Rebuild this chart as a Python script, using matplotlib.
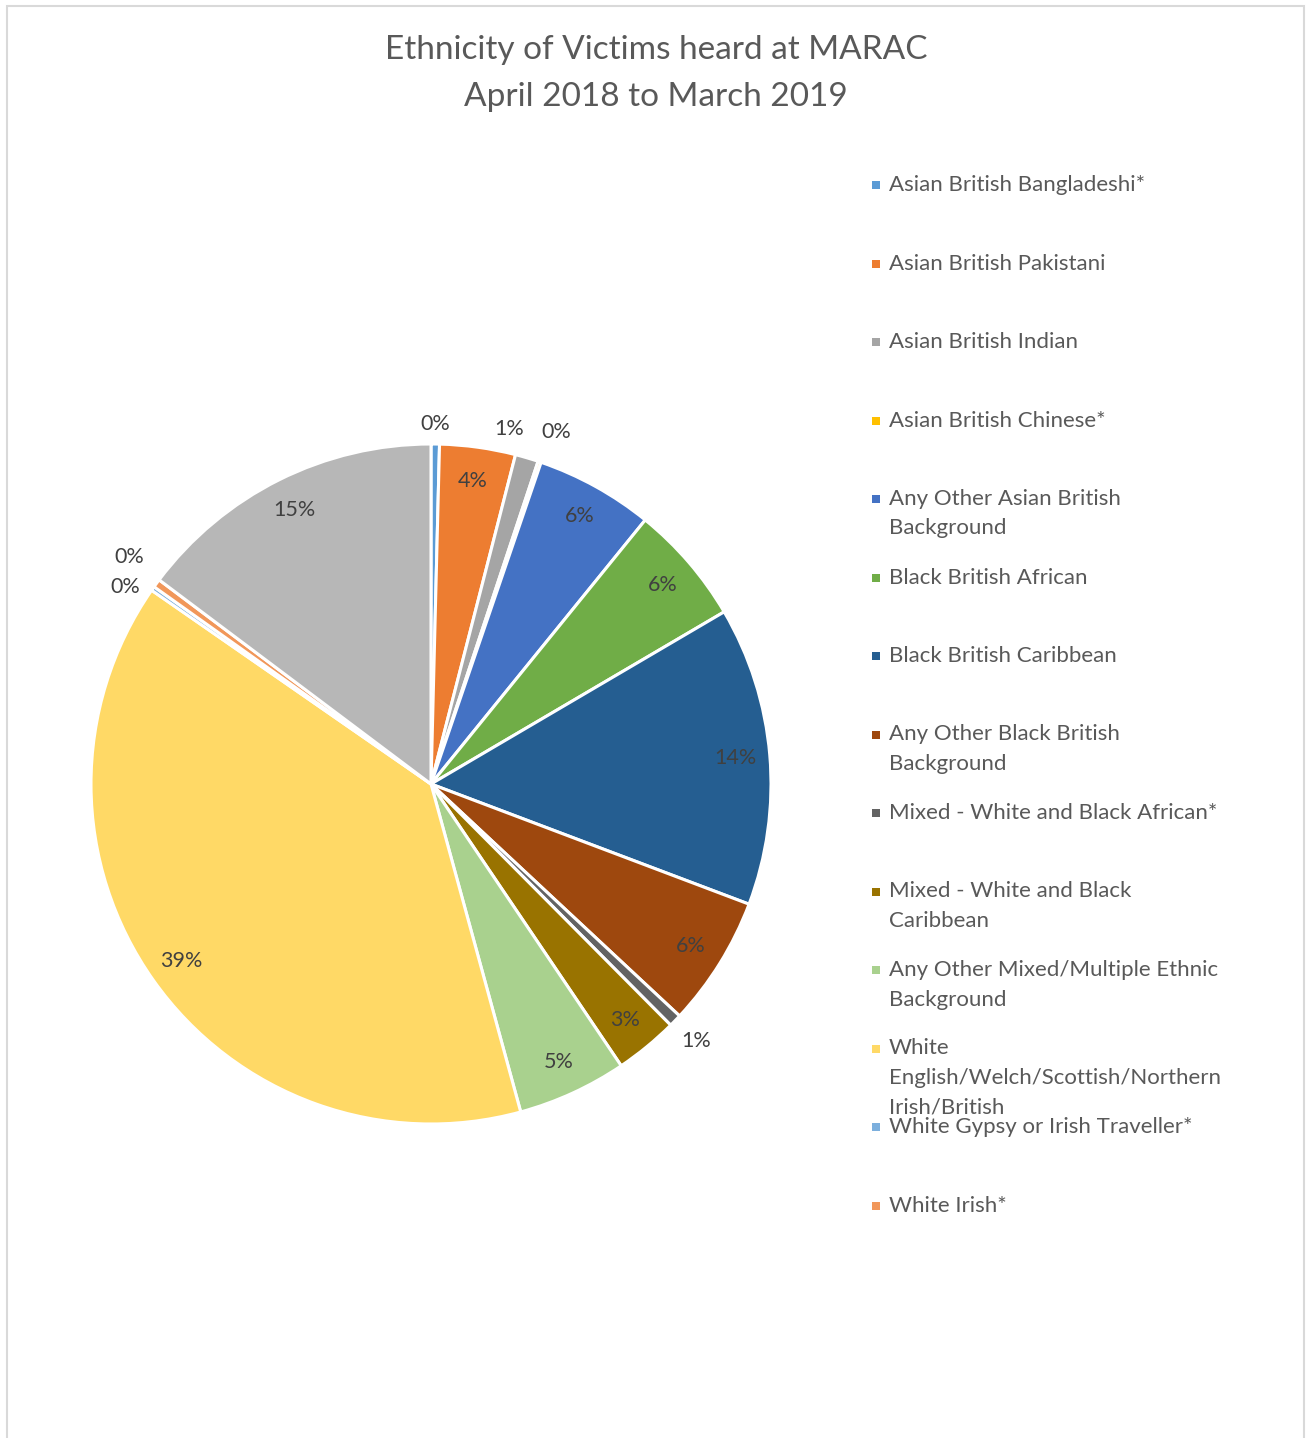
import matplotlib
matplotlib.use("Agg")
import matplotlib.pyplot as plt
from matplotlib.patches import Rectangle
import numpy as np

plt.rcParams['font.family'] = ['Lato', 'DejaVu Sans']

# ---- data ----
categories = [
    "Asian British Bangladeshi*",
    "Asian British Pakistani",
    "Asian British Indian",
    "Asian British Chinese*",
    "Any Other Asian British\nBackground",
    "Black British African",
    "Black British Caribbean",
    "Any Other Black British\nBackground",
    "Mixed - White and Black African*",
    "Mixed - White and Black\nCaribbean",
    "Any Other Mixed/Multiple Ethnic\nBackground",
    "White\nEnglish/Welch/Scottish/Northern\nIrish/British",
    "White Gypsy or Irish Traveller*",
    "White Irish*",
    "Any Other White Background",
]
percent_values = [0.4, 3.6, 1.1, 0.15, 5.6, 5.7, 14.2, 6.2, 0.6, 3.0, 5.2, 38.9, 0.2, 0.4, 14.75]
legend_count = 14  # legend in the reference lists the first 14 entries

colors = ["#5B9BD5", "#ED7D31", "#A5A5A5", "#FFC000", "#4472C4", "#70AD47",
          "#255E91", "#9E480E", "#636363", "#997300", "#A9D18E", "#FFD966",
          "#7CAFDD", "#F1975A", "#B7B7B7"]

title_lines = ["Ethnicity of Victims heard at MARAC", "April 2018 to March 2019"]

W, H = 1308, 1438
fig = plt.figure(figsize=(W / 100, H / 100), dpi=100)
fig.patch.set_facecolor("white")

# chart border
fig.add_artist(Rectangle((7 / W, -0.05), (1304 - 7) / W, (H - 6) / H + 0.05,
                         transform=fig.transFigure, fill=False,
                         edgecolor="#D9D9D9", linewidth=1.5))

cx, cy, R = 431, 784, 340
ax = fig.add_axes([(cx - R) / W, (H - cy - R) / H, 2 * R / W, 2 * R / H])
wedges, _ = ax.pie(percent_values, colors=colors, startangle=90, counterclock=False,
                   wedgeprops=dict(edgecolor="white", linewidth=2.2))
ax.set_xlim(-1, 1)
ax.set_ylim(-1, 1)
ax.set_aspect("equal")
ax.axis("off")

# data labels
label_color = "#404040"
outside_adjust = {0: (0.0, 1.06), 2: (4.0, 1.07), 3: (-1.0, 1.10),
                  8: (0.0, 1.085), 12: (2.4, 1.07), 13: (-0.8, 1.11)}
for i, (w, v) in enumerate(zip(wedges, percent_values)):
    mid = 0.5 * (w.theta1 + w.theta2)
    if i in outside_adjust:
        dth, r = outside_adjust[i]
        ang = np.deg2rad(mid + dth)
    else:
        r = 0.9
        ang = np.deg2rad(mid)
    ax.text(r * np.cos(ang), r * np.sin(ang), f"{v:.0f}%", ha="center", va="center",
            fontsize=15.5, color=label_color, clip_on=False)

# title
fig.text(656 / W, 1 - 50 / H, title_lines[0], ha="center", va="center",
         fontsize=24, color="#595959")
fig.text(656 / W, 1 - 97 / H, title_lines[1], ha="center", va="center",
         fontsize=24, color="#595959")

# legend (fixed pitch as in the reference)
y0, pitch, line_h = 185, 78.5, 29.5
for i in range(legend_count):
    y = y0 + i * pitch
    fig.add_artist(Rectangle(((876 - 4) / W, 1 - (y + 4) / H), 8 / W, 8 / H,
                             transform=fig.transFigure, facecolor=colors[i],
                             edgecolor="none"))
    for k, line in enumerate(categories[i].split("\n")):
        fig.text(889 / W, 1 - (y + k * line_h) / H, line, ha="left", va="center",
                 fontsize=16, color="#595959")

fig.savefig("out.png", dpi=100, facecolor="white")
